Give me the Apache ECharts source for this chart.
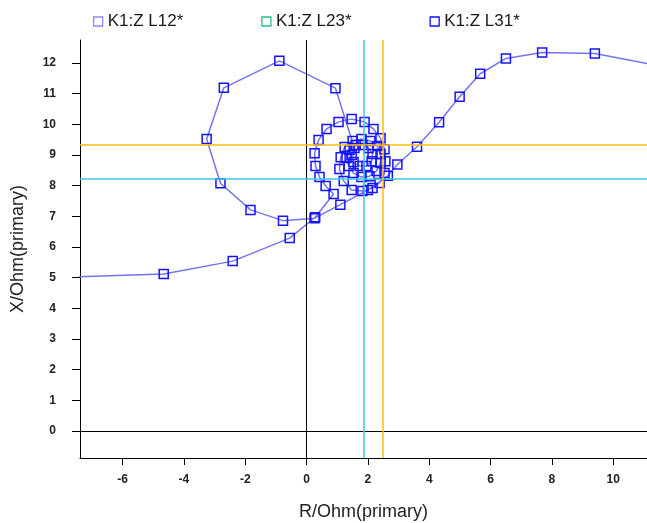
<!DOCTYPE html>
<html>
<head>
<meta charset="utf-8">
<script src="https://cdn.jsdelivr.net/npm/echarts@6/dist/echarts.min.js"></script>
<style>html,body{margin:0;padding:0;background:#fff}#c{width:647px;height:523px}</style>
</head>
<body>
<div id="c"></div>
<script>
// ---- data ----
const seriesNames = ['K1:Z L12*', 'K1:Z L23*', 'K1:Z L31*'];
const seriesColors = ['#8a8aff', '#22c08a', '#1010ff'];
// L31 trajectory: R (Ohm) and X (Ohm)
const R_L31 = [12.5, 9.40, 7.68, 6.50, 5.66, 4.99, 4.32, 3.60, 2.96, 2.65, 2.00, 1.10, 0.26,
  -0.77, -1.83, -2.81, -3.26, -2.70, -0.89, 0.94,
  1.56, 1.47, 1.53, 1.73, 1.95, 2.12, 2.15, 2.02, 1.82, 1.60,
  1.40, 1.30, 1.37, 1.53, 1.79, 2.05, 2.28, 2.41, 2.41, 2.31, 2.08, 1.79, 1.50,
  1.24, 1.11, 1.07, 1.21, 1.47, 1.82, 2.15, 2.38, 2.54, 2.57, 2.54, 2.41, 2.18, 1.89, 1.47,
  1.04, 0.65, 0.39, 0.26, 0.29, 0.42, 0.62, 0.88,
  0.28, -0.55, -2.41, -4.66, -8.5];
const X_L31 = [11.71, 12.31, 12.34, 12.15, 11.65, 10.90, 10.07, 9.27, 8.69, 8.32, 7.86, 7.38, 6.94,
  6.86, 7.21, 8.08, 9.52, 11.19, 12.07, 11.18,
  9.23, 9.00, 8.77, 8.64, 8.64, 8.80, 9.03, 9.23, 9.33, 9.33,
  9.16, 8.90, 8.64, 8.41, 8.28, 8.31, 8.48, 8.74, 9.03, 9.29, 9.46, 9.52, 9.46,
  9.26, 8.93, 8.54, 8.15, 7.86, 7.83, 7.92, 8.09, 8.41, 8.80, 9.19, 9.55, 9.85, 10.08, 10.17,
  10.08, 9.85, 9.49, 9.06, 8.64, 8.28, 7.99, 7.73,
  6.97, 6.29, 5.54, 5.12, 5.00];
const R_L12 = [];
const X_L12 = [];
const R_L23 = [];
const X_L23 = [];
// cursor lines
const cyanR = 1.86, cyanX = 8.24;
const orangeR = 2.48, orangeX = 9.35;
// ticks
const xTicks = [-6, -4, -2, 0, 2, 4, 6, 8, 10];
const yTicks = [0, 1, 2, 3, 4, 5, 6, 7, 8, 9, 10, 11, 12];
const xRange = [-7.39, 11.1];
const yRange = [-0.88, 12.75];

const pairs = (a, b) => a.map((v, i) => [v, b[i]]);
const FONT = 'Liberation Sans, Arial, sans-serif';

const chart = echarts.init(document.getElementById('c'), null, {renderer: 'canvas'});
const axisCommon = {
  type: 'value',
  axisLine: {show: true, onZero: false, lineStyle: {color: '#000', width: 1}},
  splitLine: {show: false},
  nameLocation: 'middle',
  nameTextStyle: {fontFamily: FONT, fontSize: 18, color: '#222'}
};
chart.setOption({
  animation: false,
  backgroundColor: '#fff',
  legend: {
    top: 8, left: 88, itemGap: 78, itemWidth: 9, itemHeight: 9,
    textStyle: {fontFamily: FONT, fontSize: 17, color: '#1a1a1a'},
    data: seriesNames.map((n, i) => ({
      name: n, icon: 'rect',
      itemStyle: {color: '#fff', borderColor: seriesColors[i], borderWidth: 1.3}
    }))
  },
  grid: {left: 80, right: 0, top: 40, bottom: 65, containLabel: false, outerBoundsMode: 'none'},
  xAxis: Object.assign({}, axisCommon, {
    min: xRange[0], max: xRange[1], name: 'R/Ohm(primary)', nameGap: 45,
    axisTick: {show: true, inside: false, length: 7, customValues: xTicks, lineStyle: {color: '#000'}},
    axisLabel: {customValues: xTicks, margin: 16, fontFamily: FONT, fontSize: 12, fontWeight: 'bold', color: '#222'}
  }),
  yAxis: Object.assign({}, axisCommon, {
    min: yRange[0], max: yRange[1], name: 'X/Ohm(primary)', nameGap: 53,
    axisTick: {show: true, inside: false, length: 8, customValues: yTicks, lineStyle: {color: '#000'}},
    axisLabel: {customValues: yTicks, margin: 24, fontFamily: FONT, fontSize: 12, fontWeight: 'bold', color: '#222'}
  }),
  series: [
    {
      name: seriesNames[0], type: 'line', data: pairs(R_L12, X_L12),
      symbol: 'rect', symbolSize: 9,
      lineStyle: {color: seriesColors[0], width: 1.5},
      itemStyle: {color: 'rgba(255,255,255,0)', borderColor: seriesColors[0], borderWidth: 1.5}
    },
    {
      name: seriesNames[1], type: 'line', data: pairs(R_L23, X_L23),
      symbol: 'rect', symbolSize: 9,
      lineStyle: {color: seriesColors[1], width: 1.5},
      itemStyle: {color: 'rgba(255,255,255,0)', borderColor: seriesColors[1], borderWidth: 1.5}
    },
    {
      name: 'axes0', type: 'line', data: [], z: 1,
      markLine: {
        silent: true, symbol: 'none', label: {show: false}, animation: false,
        lineStyle: {color: '#000', width: 1, type: 'solid'},
        data: [{xAxis: 0}, {yAxis: 0}]
      }
    },
    {
      name: seriesNames[2], type: 'line', data: pairs(R_L31, X_L31), z: 3,
      symbol: 'rect', symbolSize: 9, showAllSymbol: true,
      lineStyle: {color: '#7474f2', width: 1.5},
      itemStyle: {color: 'rgba(255,255,255,0)', borderColor: '#1414ff', borderWidth: 1.5}
    },
    {
      name: 'cursors', type: 'line', data: [], z: 5,
      markLine: {
        silent: true, symbol: 'none', label: {show: false}, animation: false,
        data: [
          {xAxis: cyanR, lineStyle: {color: '#3cc6f0', width: 1.5, type: 'solid'}},
          {yAxis: cyanX, lineStyle: {color: '#3cc6f0', width: 1.5, type: 'solid'}},
          {xAxis: orangeR, lineStyle: {color: '#ffbd10', width: 1.5, type: 'solid'}},
          {yAxis: orangeX, lineStyle: {color: '#ffbd10', width: 1.5, type: 'solid'}}
        ]
      }
    }
  ]
});
</script>
</body>
</html>
